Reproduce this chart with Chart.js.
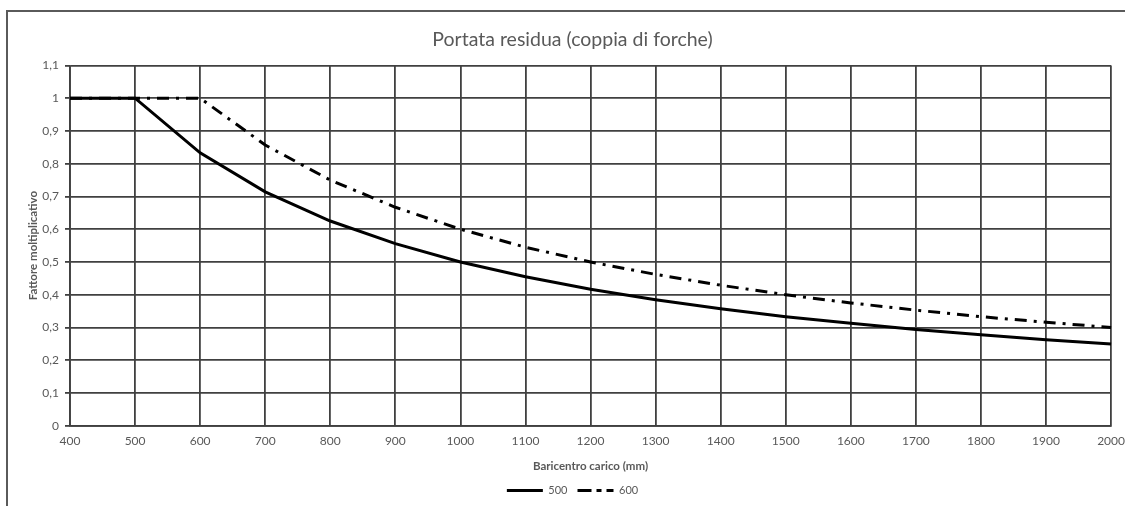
<!DOCTYPE html>
<html lang="it">
<head>
    <meta charset="UTF-8">
    <title>Portata residua</title>
    <script src="https://cdn.jsdelivr.net/npm/chart.js"></script>
    <style>
        body { margin: 0; background: #fff; overflow: hidden; }
        #cornice {
            position: absolute; left: 6px; top: 10px; width: 1125px; height: 520px;
            border: 2px solid #5a5a5a; border-right: none; box-sizing: border-box;
        }
        #box { position: absolute; left: 9px; top: 13px; width: 1124px; height: 493px; }
    </style>
</head>
<body>
    <div id="cornice"></div>
    <div id="box"><canvas id="graficaPortata"></canvas></div>

    <script>
        // valori
        const baricentro = [400, 500, 600, 700, 800, 900, 1000, 1100, 1200, 1300, 1400, 1500, 1600, 1700, 1800, 1900, 2000];
        const serie500 = [1, 1, 0.833, 0.714, 0.625, 0.556, 0.5, 0.455, 0.417, 0.385, 0.357, 0.333, 0.313, 0.294, 0.278, 0.263, 0.25];
        const serie600 = [1, 1, 1, 0.857, 0.75, 0.667, 0.6, 0.545, 0.5, 0.462, 0.429, 0.4, 0.375, 0.353, 0.333, 0.316, 0.3];
        const ticksY = [0, 0.1, 0.2, 0.3, 0.4, 0.5, 0.6, 0.7, 0.8, 0.9, 1, 1.1];

        const grigio = '#595959';
        Chart.defaults.font.family = 'Lato, "Open Sans", sans-serif';

        const ctx = document.getElementById('graficaPortata').getContext('2d');
        const grafica = new Chart(ctx, {
            type: 'line',
            data: {
                labels: baricentro,
                datasets: [{
                    label: '500',
                    data: serie500,
                    borderColor: '#000',
                    backgroundColor: '#000',
                    borderWidth: 3,
                    pointRadius: 0,
                    tension: 0
                }, {
                    label: '600',
                    data: serie600,
                    borderColor: '#000',
                    backgroundColor: '#000',
                    borderWidth: 3,
                    borderDash: [12, 7, 3, 7],
                    pointRadius: 0,
                    tension: 0
                }]
            },
            options: {
                responsive: true,
                maintainAspectRatio: false,
                animation: false,
                layout: { padding: { top: 15, right: 11, left: 14, bottom: 0 } },
                plugins: {
                    title: {
                        display: true,
                        text: 'Portata residua (coppia di forche)',
                        color: grigio,
                        font: { size: 19.5, weight: 'normal' },
                        padding: { top: 0, bottom: 14 }
                    },
                    legend: {
                        position: 'bottom',
                        labels: {
                            color: grigio,
                            font: { size: 11 },
                            boxWidth: 36,
                            boxHeight: 0,
                            padding: 10
                        }
                    },
                    tooltip: { enabled: false }
                },
                scales: {
                    x: {
                        offset: false,
                        title: {
                            display: true, text: 'Baricentro carico (mm)', color: grigio,
                            font: { size: 11.5, weight: 'bold' }, padding: { top: 3, bottom: 2 }
                        },
                        grid: { color: '#404040', lineWidth: 1.8, drawTicks: false },
                        border: { color: '#404040', width: 1.8 },
                        ticks: { color: grigio, font: { size: 12 }, padding: 8, maxRotation: 0, autoSkip: false }
                    },
                    y: {
                        min: 0,
                        max: 1.1,
                        afterFit: (scale) => { scale.width = 47; },
                        afterBuildTicks: (scale) => { scale.ticks = ticksY.map(v => ({ value: v })); },
                        title: {
                            display: true, text: 'Fattore moltiplicativo', color: grigio,
                            font: { size: 11.5, weight: 'bold' }, padding: { top: 3 }
                        },
                        grid: { color: '#404040', lineWidth: 1.8, tickLength: 5 },
                        border: { color: '#404040', width: 1.8 },
                        ticks: {
                            color: grigio, font: { size: 12 }, padding: 6,
                            callback: (v) => String(Math.round(v * 10) / 10).replace('.', ',')
                        }
                    }
                }
            }
        });
    </script>
</body>
</html>
